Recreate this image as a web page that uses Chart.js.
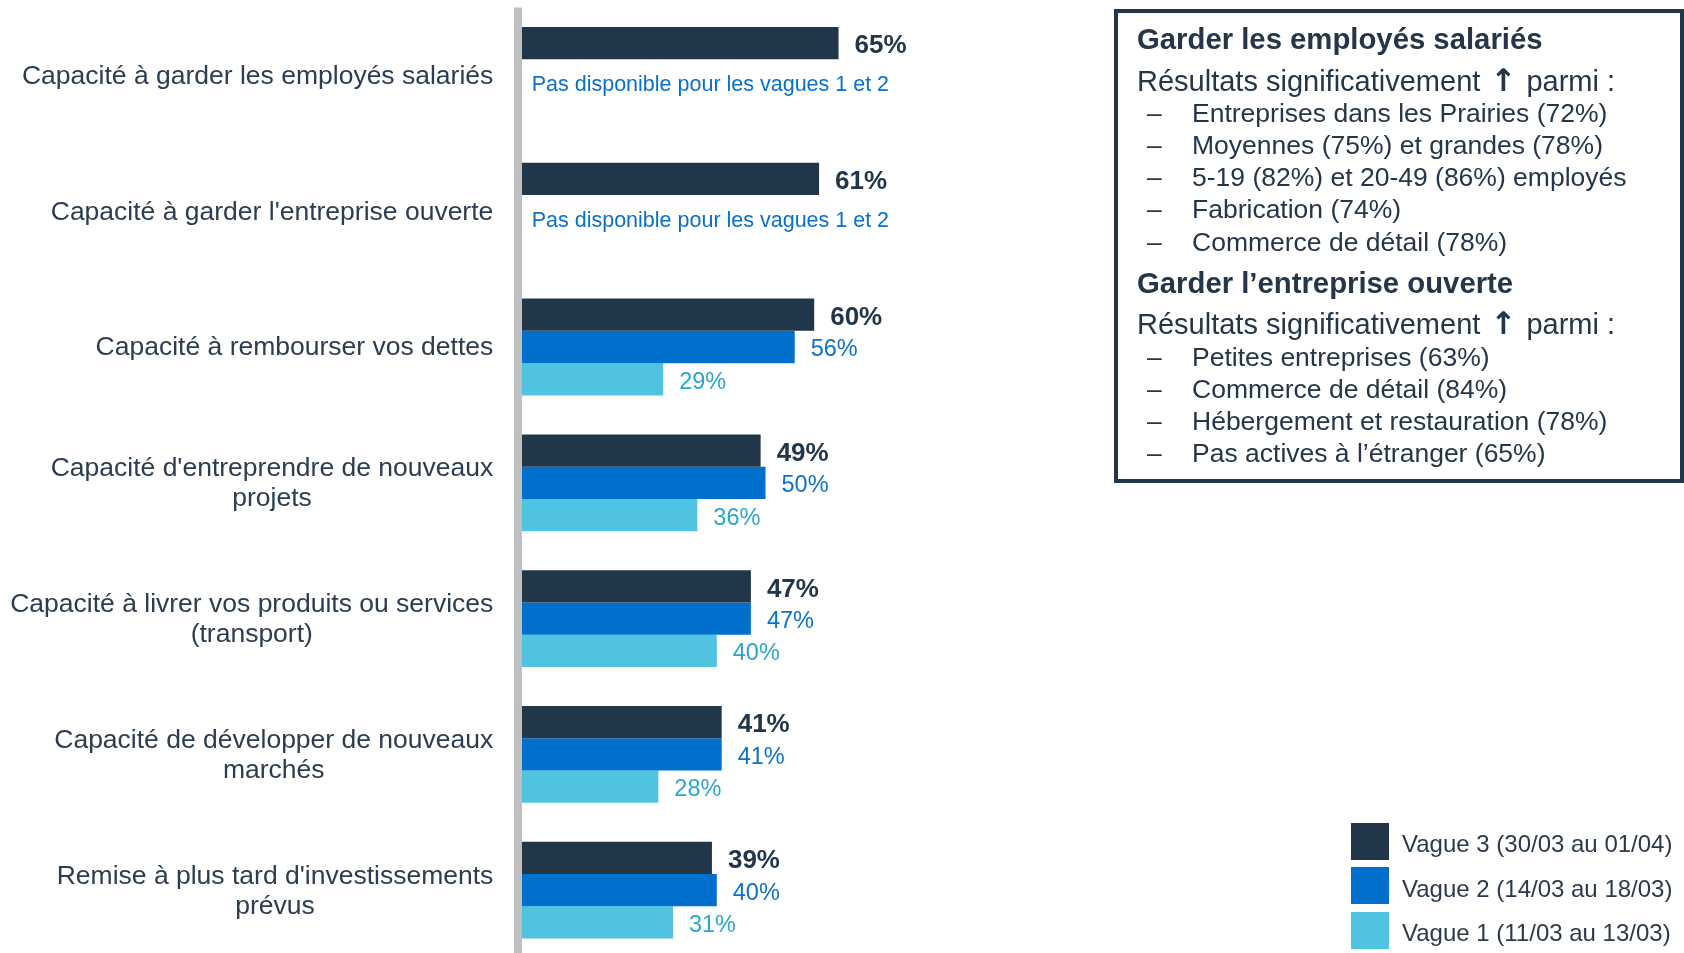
<!DOCTYPE html>
<html lang="fr">

<head>
  <meta charset="UTF-8">
  <title>Capacités des entreprises</title>
  <script src="https://cdn.jsdelivr.net/npm/chart.js"></script>
  <style>
    body {
      margin: 0;
      width: 1684px;
      height: 953px;
      overflow: hidden;
      background: #fff;
      position: relative;
      font-family: "Liberation Sans", Arial, sans-serif;
      color: #243648;
    }

    #chart {
      position: absolute;
      left: 0;
      top: 0;
    }

    .box {
      position: absolute;
      left: 1114px;
      top: 9px;
      width: 570px;
      height: 474px;
      box-sizing: border-box;
      border: 4px solid #22364a;
    }

    .line {
      position: absolute;
      white-space: nowrap;
      height: 32px;
      line-height: 32px;
    }

    .h {
      font-weight: bold;
      font-size: 29.3px;
      left: 1137px;
    }

    .r {
      font-size: 29px;
      left: 1137px;
    }

    .arrow {
      font-family: "DejaVu Sans", sans-serif;
      font-size: 31px;
      font-weight: bold;
      margin: 0 2px;
    }

    .dash {
      font-size: 26.5px;
      left: 1147px;
    }

    .item {
      font-size: 26.5px;
      left: 1192px;
    }

    .legend-row {
      position: absolute;
      left: 1351px;
      height: 38px;
      display: flex;
      align-items: center;
      white-space: nowrap;
      font-size: 24px;
      color: #2b3a4a;
    }

    .legend-row span.sw {
      width: 38px;
      height: 37px;
      margin-right: 13px;
    }

    .legend-row span.tx {
      position: relative;
      top: 3px;
    }
  </style>
</head>

<body>
  <canvas id="chart" width="1684" height="960"></canvas>

  <div class="box"></div>
  <div id="boxText"></div>
  <div id="legend"></div>

  <script>
    const categories = [
      ['Capacité à garder les employés salariés'],
      ["Capacité à garder l'entreprise ouverte"],
      ['Capacité à rembourser vos dettes'],
      ["Capacité d'entreprendre de nouveaux", 'projets'],
      ['Capacité à livrer vos produits ou services', '(transport)'],
      ['Capacité de développer de nouveaux', 'marchés'],
      ["Remise à plus tard d'investissements", 'prévus']
    ];
    const vague3 = [65, 61, 60, 49, 47, 41, 39];
    const vague2 = [null, null, 56, 50, 47, 41, 40];
    const vague1 = [null, null, 29, 36, 40, 28, 31];
    const notes = [
      'Pas disponible pour les vagues 1 et 2',
      'Pas disponible pour les vagues 1 et 2',
      null, null, null, null, null
    ];
    const seriesLabels = ['Vague 3 (30/03 au 01/04)', 'Vague 2 (14/03 au 18/03)', 'Vague 1 (11/03 au 13/03)'];

    const barColors = ['#22364a', '#0070cc', '#4fc3df'];
    const valueColors = ['#22364a', '#0a72c8', '#2ca6c8'];

    // text of the side box: [class, text, center y]
    const boxLines = [
      ['h', 'Garder les employés salariés', 38.7],
      ['r', 'Résultats significativement <span class="arrow">↑</span> parmi :', 79.5],
      ['i', 'Entreprises dans les Prairies (72%)', 112.8],
      ['i', 'Moyennes (75%) et grandes (78%)', 145],
      ['i', '5-19 (82%) et 20-49 (86%) employés', 177.2],
      ['i', 'Fabrication (74%)', 209.4],
      ['i', 'Commerce de détail (78%)', 241.7],
      ['h', 'Garder l’entreprise ouverte', 282.5],
      ['r', 'Résultats significativement <span class="arrow">↑</span> parmi :', 323.3],
      ['i', 'Petites entreprises (63%)', 356.6],
      ['i', 'Commerce de détail (84%)', 388.8],
      ['i', 'Hébergement et restauration (78%)', 421],
      ['i', 'Pas actives à l’étranger (65%)', 453.2]
    ];

    const boxText = document.getElementById('boxText');
    boxLines.forEach(([kind, text, cy]) => {
      const top = (cy - 16) + 'px';
      if (kind === 'i') {
        boxText.insertAdjacentHTML('beforeend',
          `<div class="line dash" style="top:${top}">–</div><div class="line item" style="top:${top}">${text}</div>`);
      } else {
        boxText.insertAdjacentHTML('beforeend', `<div class="line ${kind}" style="top:${top}">${text}</div>`);
      }
    });

    const legend = document.getElementById('legend');
    seriesLabels.forEach((label, i) => {
      legend.insertAdjacentHTML('beforeend',
        `<div class="legend-row" style="top:${822 + i * 44.5}px"><span class="sw" style="background:${barColors[i]}"></span><span class="tx">${label}</span></div>`);
    });

    const FONT = '"Liberation Sans", Arial, sans-serif';

    const drawPlugin = {
      id: 'drawPlugin',
      beforeDatasetsDraw(chart) {
        const { ctx, chartArea } = chart;
        // grey axis line
        ctx.save();
        ctx.fillStyle = '#bfbfbf';
        ctx.fillRect(chartArea.left - 8, chartArea.top, 8, chartArea.bottom - chartArea.top);
        ctx.restore();
      },
      afterDatasetsDraw(chart) {
        const { ctx, chartArea } = chart;
        const yScale = chart.scales.y;
        ctx.save();

        // value labels
        ctx.textBaseline = 'alphabetic';
        chart.data.datasets.forEach((ds, d) => {
          const meta = chart.getDatasetMeta(d);
          const size = d === 0 ? 26 : 23.5;
          ctx.font = (d === 0 ? 'bold ' : '') + size + 'px ' + FONT;
          ctx.fillStyle = valueColors[d];
          ctx.textAlign = 'left';
          meta.data.forEach((bar, i) => {
            const v = ds.data[i];
            if (v === null) return;
            ctx.fillText(v + '%', bar.x + 16, bar.y + size * 0.36 + 1);
          });
        });

        // notes for missing waves
        ctx.font = '21.5px ' + FONT;
        ctx.fillStyle = '#0a70c6';
        ctx.textAlign = 'left';
        notes.forEach((n, i) => {
          if (!n) return;
          ctx.fillText(n, chartArea.left + 9.7, yScale.getPixelForValue(i) + 8 + 21.5 * 0.36);
        });

        // category labels, block right aligned, lines centered
        ctx.textBaseline = 'middle';
        ctx.font = '26.5px ' + FONT;
        ctx.fillStyle = '#2c3d4f';
        ctx.textAlign = 'center';
        const right = chartArea.left - 28.7;
        const lineH = 30;
        categories.forEach((lines, i) => {
          const y = yScale.getPixelForValue(i);
          const w = Math.max(...lines.map(l => ctx.measureText(l).width));
          const y0 = y - (lines.length - 1) * lineH / 2;
          lines.forEach((l, k) => ctx.fillText(l, right - w / 2, y0 + k * lineH + 1));
        });
        ctx.restore();
      }
    };

    new Chart(document.getElementById('chart').getContext('2d'), {
      type: 'bar',
      data: {
        labels: categories,
        datasets: [
          { label: seriesLabels[0], data: vague3, backgroundColor: barColors[0] },
          { label: seriesLabels[1], data: vague2, backgroundColor: barColors[1] },
          { label: seriesLabels[2], data: vague1, backgroundColor: barColors[2] }
        ]
      },
      options: {
        indexAxis: 'y',
        responsive: false,
        animation: false,
        devicePixelRatio: 1,
        layout: { padding: { left: 522, right: 675, top: 7.5, bottom: 1.9 } },
        datasets: {
          bar: { categoryPercentage: 0.713, barPercentage: 1.0 }
        },
        plugins: {
          legend: { display: false },
          tooltip: { enabled: false }
        },
        scales: {
          x: { display: false, min: 0, max: 100 },
          y: { display: false }
        }
      },
      plugins: [drawPlugin]
    });
  </script>
</body>

</html>
